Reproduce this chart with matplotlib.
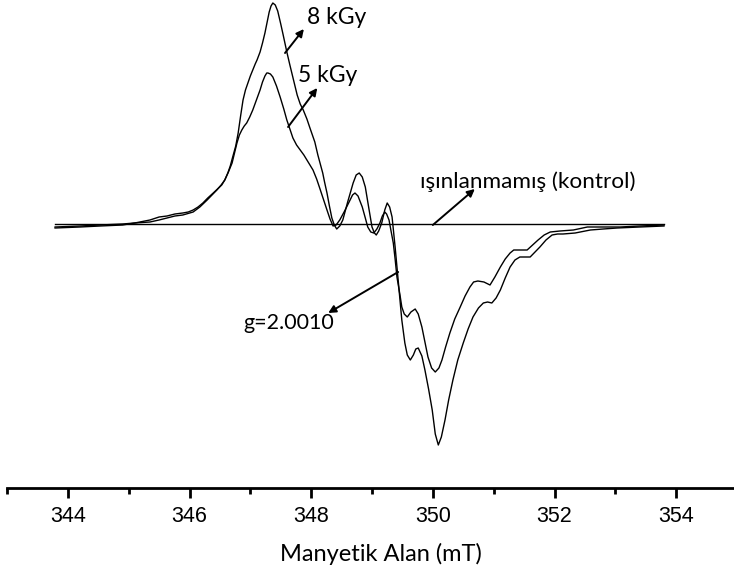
import numpy as np
import matplotlib
matplotlib.use("Agg")
from matplotlib import pyplot as plt
from matplotlib import font_manager
from matplotlib.ticker import MultipleLocator

# EPR spectra, magnetic field in mT, signal in arbitrary units
field_8kgy = [343.79, 344.20, 344.53, 344.90, 345.10, 345.35, 345.50, 345.63, 345.76, 345.89,
              345.98, 346.06, 346.14, 346.22, 346.30, 346.39, 346.46, 346.53, 346.58, 346.63,
              346.67, 346.71, 346.76, 346.80, 346.84, 346.88, 346.92, 346.96, 347.00, 347.04,
              347.08, 347.11, 347.16, 347.20, 347.24, 347.28, 347.31, 347.34, 347.37, 347.41,
              347.45, 347.50, 347.54, 347.60, 347.65, 347.71, 347.77, 347.82, 347.87, 347.93,
              347.98, 348.02, 348.06, 348.11, 348.15, 348.19, 348.22, 348.26, 348.30, 348.34,
              348.38, 348.42, 348.47, 348.52, 348.60, 348.69, 348.74, 348.79, 348.84, 348.89,
              348.95, 349.00, 349.04, 349.07, 349.11, 349.16, 349.21, 349.25, 349.29, 349.33,
              349.38, 349.43, 349.49, 349.54, 349.58, 349.63, 349.68, 349.72, 349.76, 349.82,
              349.87, 349.93, 349.99, 350.04, 350.09, 350.14, 350.20, 350.26, 350.33, 350.41,
              350.50, 350.58, 350.66, 350.75, 350.83, 350.90, 350.97, 351.04, 351.11, 351.19,
              351.27, 351.35, 351.43, 351.52, 351.60, 351.68, 351.76, 351.86, 351.96, 352.05,
              352.14, 352.34, 352.59, 352.80, 353.03, 353.40, 353.80]
signal_8kgy = [-4, -3, -2, -1, 1, 4, 7, 8, 10, 11,
               12, 14, 17, 21, 26, 31, 35, 39, 44, 51,
               58, 67, 78, 91, 108, 124, 134, 141, 148, 154,
               160, 164, 172, 181, 191, 203, 212, 218, 221, 219,
               213, 200, 189, 172, 159, 144, 129, 120, 114, 105,
               96, 89, 82, 69, 60, 51, 42, 31, 18, 6,
               -1, -5, -2, 4, 22, 41, 49, 51, 47, 37,
               15, -3, -9, -11, -7, 1, 14, 21, 17, 7,
               -23, -56, -96, -119, -131, -136, -131, -125, -124, -132,
               -146, -165, -186, -210, -221, -213, -196, -176, -156, -136,
               -119, -105, -93, -84, -79, -78, -79, -74, -66, -54,
               -43, -36, -33, -33, -33, -28, -23, -16, -11, -10,
               -10, -9, -6, -5, -4, -3, -2]

field_5kgy = [343.79, 344.20, 344.53, 344.90, 345.10, 345.35, 345.50, 345.63, 345.76, 345.89,
              346.06, 346.17, 346.29, 346.37, 346.45, 346.52, 346.58, 346.64, 346.70, 346.74,
              346.78, 346.82, 346.86, 346.90, 346.94, 346.99, 347.04, 347.10, 347.16, 347.20,
              347.24, 347.27, 347.29, 347.33, 347.37, 347.43, 347.49, 347.55, 347.60, 347.65,
              347.70, 347.76, 347.82, 347.88, 347.93, 347.98, 348.03, 348.09, 348.14, 348.20,
              348.26, 348.31, 348.36, 348.41, 348.47, 348.55, 348.64, 348.68, 348.72, 348.77,
              348.84, 348.89, 348.93, 348.98, 349.03, 349.08, 349.13, 349.17, 349.21, 349.24,
              349.28, 349.31, 349.35, 349.38, 349.41, 349.46, 349.49, 349.53, 349.58, 349.64,
              349.71, 349.76, 349.82, 349.87, 349.92, 349.98, 350.04, 350.10, 350.15, 350.21,
              350.28, 350.36, 350.45, 350.53, 350.61, 350.67, 350.74, 350.84, 350.94, 351.02,
              351.11, 351.19, 351.27, 351.33, 351.38, 351.47, 351.55, 351.64, 351.73, 351.83,
              351.93, 352.09, 352.31, 352.54, 352.75, 353.08, 353.40, 353.80]
signal_5kgy = [-3, -2, -1, 0, 1, 2, 4, 6, 8, 9,
               12, 17, 24, 29, 34, 39, 44, 52, 61, 71,
               81, 89, 94, 98, 101, 107, 114, 124, 134, 142,
               148, 151, 151, 150, 147, 138, 127, 115, 104, 95,
               86, 79, 74, 69, 64, 59, 54, 45, 36, 25,
               14, 5, -2, -1, 4, 13, 24, 29, 31, 28,
               17, 6, -3, -8, -9, -5, 1, 8, 12, 10,
               4, -6, -19, -35, -53, -71, -83, -90, -93, -88,
               -85, -90, -103, -118, -133, -144, -148, -144, -136, -123,
               -109, -95, -83, -72, -63, -58, -57, -58, -61, -53,
               -43, -35, -29, -26, -26, -26, -26, -21, -16, -11,
               -8, -7, -6, -3, -3, -3, -2, -1]

field_control = [343.79, 353.80]
signal_control = [0, 0]

# narrow sans for the tick numbers if one is available
installed = {f.name for f in font_manager.fontManager.ttflist}
tick_family = "Liberation Sans"
tick_size = 15.5
for name in ["Liberation Sans Narrow", "DejaVu Sans Condensed"]:
    if name in installed:
        tick_family, tick_size = name, 18
        break

fig = plt.figure(figsize=(7.34, 5.81), dpi=100)
ax = fig.add_axes([7 / 734, 93 / 581, 730 / 734, 488 / 581])

for fld, sig in [(field_8kgy, signal_8kgy), (field_5kgy, signal_5kgy),
                 (field_control, signal_control)]:
    ax.plot(fld, sig, color="black", lw=1.0, solid_joinstyle="round")

ax.set_xlim(343, 355)
ax.set_ylim(-264, 224)

for side in ["left", "top", "right"]:
    ax.spines[side].set_visible(False)
ax.spines["bottom"].set_linewidth(2.0)
ax.set_yticks([])
ax.xaxis.set_major_locator(MultipleLocator(2))
ax.xaxis.set_minor_locator(MultipleLocator(1))
ax.tick_params(axis="x", which="major", length=7, width=2.0, pad=6,
               labelsize=tick_size, labelfontfamily=tick_family)
ax.tick_params(axis="x", which="minor", length=4, width=2.0)

ann_font = ["Lato", "DejaVu Sans"]
ax.set_xlabel("Manyetik Alan (mT)", family=ann_font, fontsize=17)
ax.xaxis.set_label_coords(0.512, -0.113)

arrow = dict(arrowstyle="-|>", color="black", lw=1.4, mutation_scale=11,
             shrinkA=0, shrinkB=0)

# labels with arrows pointing away from the spectra
ax.annotate("", xy=(347.88, 195), xytext=(347.57, 171), arrowprops=arrow)
ax.text(347.93, 206, "8 kGy", family=ann_font, fontsize=16.5, va="center", ha="left")

ax.annotate("", xy=(348.10, 136), xytext=(347.62, 97), arrowprops=arrow)
ax.text(347.78, 149, "5 kGy", family=ann_font, fontsize=16.5, va="center", ha="left")

ax.annotate("", xy=(350.69, 35), xytext=(350.00, -1), arrowprops=arrow)
ax.text(349.79, 42, "ışınlanmamış (kontrol)", family=ann_font, fontsize=16.2,
        va="center", ha="left")

ax.annotate("", xy=(348.28, -89), xytext=(349.43, -48), arrowprops=arrow)
ax.text(346.88, -99, "g=2.0010", family=ann_font, fontsize=15.5, va="center", ha="left")

fig.savefig("out.png", dpi=100)
